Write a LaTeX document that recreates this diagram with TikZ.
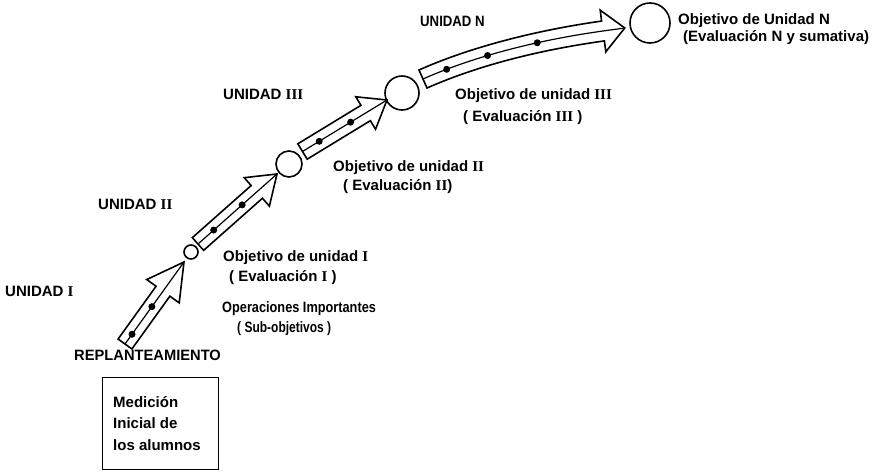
\documentclass[tikz,border=0pt]{standalone}
\usepackage{graphicx}
\usepackage{fontspec}
\setmainfont{Liberation Sans}
\newfontfamily\rnfont{Liberation Serif}
\usetikzlibrary{calc}
\newcommand{\rn}[1]{{\rnfont\bfseries #1}}
\newcommand{\narrow}[2]{\scalebox{#1}[1]{#2}}
% block arrow: #1 tail, #2 tip, #3 shaft half width, #4 head half width, #5 head length, #6 prefix
\newcommand{\blockarrow}[6]{%
  \coordinate (#6hb) at ($(#2)!#5!(#1)$);
  \draw[blk] ($(#1)!#3!90:(#2)$) -- ($(#6hb)!#3!90:(#2)$) -- ($(#6hb)!#4!90:(#2)$)
     -- (#2) -- ($(#6hb)!#4!-90:(#2)$) -- ($(#6hb)!#3!-90:(#2)$) -- ($(#1)!#3!-90:(#2)$) -- cycle;
  \draw[core] (#1) -- (#2);
}
\begin{document}
\begin{tikzpicture}[x=1pt,y=-1pt,
  lbl/.style={anchor=base west, inner sep=0pt, font=\fontsize{15}{18}\selectfont\bfseries},
  goal/.style={circle, draw, line width=1.6pt, inner sep=0pt},
  blk/.style={draw, line width=1.6pt, line join=miter},
  core/.style={line width=1.2pt},
  dot/.style={circle, fill, inner sep=0pt, minimum size=7pt}]
\useasboundingbox (0,0) rectangle (879,473);

% goal circles
\node[goal, minimum size=14pt] (c1) at (191,252) {};
\node[goal, minimum size=26pt] (c2) at (289,164) {};
\node[goal, minimum size=34pt] (c3) at (402,93) {};
\node[goal, minimum size=40pt] (c4) at (650,23) {};

% arrow 1
\coordinate (t1) at (125,344);
\coordinate (p1) at (184,262);
\blockarrow{t1}{p1}{8.5pt}{20pt}{36pt}{a1}
\node[dot] (d11) at ($(t1)!12pt!(p1)$) {};
\node[dot] (d12) at ($(t1)!46pt!(p1)$) {};

% arrow 2
\coordinate (t2) at (198,244);
\coordinate (p2) at (277,174);
\blockarrow{t2}{p2}{8.5pt}{19pt}{27pt}{a2}
\node[dot] (d21) at ($(t2)!21pt!(p2)$) {};
\node[dot] (d22) at ($(t2)!59pt!(p2)$) {};

% arrow 3
\coordinate (t3) at (302.5,151.5);
\coordinate (p3) at (387,100);
\blockarrow{t3}{p3}{9pt}{19pt}{25pt}{a3}
\node[dot] (d31) at ($(t3)!19.6pt!(p3)$) {};
\node[dot] (d32) at ($(t3)!56.4pt!(p3)$) {};

% arrow 4 (curved)
\coordinate (t4) at (423,79);
\coordinate (hb4) at (603,31);
\coordinate (p4) at (624.8,28);
\draw[blk] (419,70) .. controls (473.9,45.5) and (542.2,29.4) .. (601.6,21.1)
  -- (600.2,10.2) -- (p4) -- (605.8,51.8) -- (604.4,40.9)
  .. controls (545,49.2) and (482.1,63.7) .. (427,88) -- cycle;
\draw[core] (t4) .. controls (478,54.6) and (543.6,39.3) .. (hb4)
  node[dot, pos=0.14] (d41) {} node[dot, pos=0.37] (d42) {} node[dot, pos=0.64] (d43) {}
  -- (p4);

% labels
\node[lbl] (un) at (420,27) {\narrow{0.88}{UNIDAD N}};
\node[lbl] (on) at (678,25) {Objetivo de Unidad N};
\node[lbl] (en) at (683,42) {(Evaluación N y sumativa)};
\node[lbl] (u3) at (223,100) {UNIDAD \rn{III}};
\node[lbl] (o3) at (455,100) {Objetivo de unidad \rn{III}};
\node[lbl] (e3) at (463,122) {( Evaluación \rn{III} )};
\node[lbl] (o2) at (333,172) {Objetivo de unidad \rn{II}};
\node[lbl] (e2) at (343,191) {( Evaluación \rn{II})};
\node[lbl] (u2) at (98,210) {UNIDAD \rn{II}};
\node[lbl] (o1) at (223,262) {Objetivo de unidad \rn{I}};
\node[lbl] (e1) at (229,282) {( Evaluación \rn{I} )};
\node[lbl] (op) at (222,313) {\narrow{0.85}{Operaciones Importantes}};
\node[lbl] (so) at (237,333) {\narrow{0.8}{( Sub-objetivos )}};
\node[lbl] (u1) at (5,297) {UNIDAD \rn{I}};
\node[lbl] (rp) at (74,360) {\narrow{0.98}{REPLANTEAMIENTO}};

% initial measurement box
\node[draw, line width=1.3pt, minimum width=116pt, minimum height=92pt, anchor=north west, inner sep=0pt] (box) at (102,377) {};
\node[lbl] (m1) at (113,407) {Medición};
\node[lbl] (m2) at (113,428) {Inicial de};
\node[lbl] (m3) at (113,450) {los alumnos};
\end{tikzpicture}
\end{document}
